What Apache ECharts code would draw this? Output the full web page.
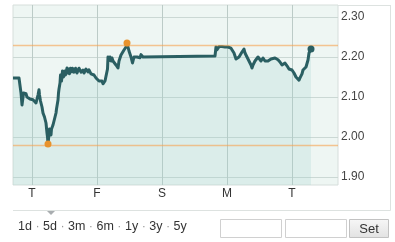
<!DOCTYPE html>
<html>
<head>
<meta charset="utf-8">
<script src="https://cdn.jsdelivr.net/npm/echarts@6/dist/echarts.min.js"></script>
<style>
html,body{margin:0;padding:0;background:#fff;}
#chart{width:395px;height:242px;}
</style>
</head>
<body>
<div id="chart"></div>
<script>
// time steps (65 steps per trading day), axis starts at step 0
const times = [0,6,7,8,8.5,9,9.5,10,10.5,11,12,12.5,13,14,15,16,17,18,19,20,21,22,23,24,25,26,26.5,27,27.5,28,29,29.5,30,31,31.5,32,33,33.5,34,34.5,35,35.5,36,36.5,37,38,38.5,39,40,41,41.5,42,43,43.5,44,45,45.5,46,47,47.5,48,48.5,49,49.5,50,50.5,51,52,52.5,53,54,54.5,55,56,56.5,57,57.5,58,59,59.5,60,61,62,62.5,63,64,65,66,67,68,69,70,71,72,73,74,75,76,77,78,79,80,81,82,83,84,85,86,87,88,89,90,91,92,93,94,94.5,95,95.5,96,97,98,99,100,101,102,103,104,105,106,107,108,109,110,111,112,113,114,115,116,116.5,117,118,119,119.5,120,121,122,123,124,125,126,127,128,129,130,131,202,203,204,205,206,207,208,209,210,212,215,217,218,219,220,221,222,223,224,225,226,227,228,229,230,231,232,233,234,235,236,237,238,239,240,241,242,243,244,245,246,247,248,249,250,251,252,253,254,255,256,257,258,259,262,264,265,266,267,268,269,270,271,272,273,274,275,276,277,278,279,280,281,282,283,284,285,286,287,288,289,290,291,292,293,294,295,296,298];
const prices = [2.1475,2.1475,2.145,2.11,2.095,2.08,2.09,2.095,2.11,2.105,2.1125,2.105,2.108,2.10,2.102,2.097,2.095,2.10,2.094,2.093,2.096,2.088,2.085,2.095,2.105,2.118,2.105,2.10,2.09,2.085,2.075,2.08,2.06,2.065,2.05,2.045,2.035,2.04,2.01,2.0,1.9825,1.995,2.00,2.02,2.015,2.005,2.02,2.0175,2.03,2.025,2.045,2.0425,2.06,2.07,2.075,2.0925,2.11,2.12,2.135,2.155,2.15,2.14,2.145,2.165,2.16,2.15,2.155,2.165,2.155,2.16,2.1725,2.16,2.165,2.17,2.158,2.1625,2.172,2.168,2.163,2.172,2.17,2.162,2.165,2.172,2.168,2.16,2.165,2.172,2.168,2.162,2.165,2.1675,2.16,2.163,2.17,2.165,2.1625,2.168,2.165,2.158,2.16,2.1625,2.155,2.152,2.1475,2.15,2.145,2.14,2.1425,2.137,2.14,2.133,2.135,2.14,2.135,2.1425,2.17,2.20,2.19,2.195,2.20,2.19,2.1975,2.19,2.185,2.19,2.18,2.185,2.1725,2.19,2.195,2.205,2.21,2.205,2.2175,2.22,2.225,2.235,2.225,2.215,2.22,2.21,2.20,2.195,2.185,2.19,2.20,2.195,2.205,2.20,2.198,2.205,2.198,2.206,2.205,2.20,2.2025,2.2025,2.225,2.218,2.222,2.226,2.23,2.224,2.226,2.224,2.225,2.225,2.225,2.222,2.22,2.2175,2.21,2.205,2.195,2.1925,2.19,2.20,2.205,2.20,2.2125,2.208,2.22,2.21,2.205,2.20,2.195,2.19,2.1875,2.18,2.1725,2.18,2.185,2.19,2.195,2.19,2.20,2.197,2.195,2.19,2.193,2.1975,2.193,2.19,2.188,2.185,2.19,2.186,2.1925,2.195,2.1975,2.1975,2.1975,2.193,2.19,2.1875,2.183,2.18,2.185,2.182,2.185,2.18,2.178,2.175,2.17,2.17,2.165,2.1675,2.165,2.16,2.155,2.15,2.148,2.145,2.142,2.148,2.145,2.158,2.1675,2.165,2.17,2.175,2.18,2.1925,2.21,2.22];
const dayTicks = [19,84,149,214,279];
const dayLabels = ['T','F','S','M','T'];
const priceTicks = [1.9,2.0,2.1,2.2,2.3];
const rangeLabels = ['1d','5d','3m','6m','1y','3y','5y'];

const data = times.map((t,i)=>[t,prices[i]]);
let hiI=0, loI=0;
prices.forEach((p,i)=>{ if(p>prices[hiI]) hiI=i; if(p<prices[loI]) loI=i; });
const last = data[data.length-1];

const chart = echarts.init(document.getElementById('chart'), null, {renderer:'canvas'});
const font = 'Arial, "Liberation Sans", sans-serif';
const rangeRich = rangeLabels.join('{d| · }');

chart.setOption({
  animation:false,
  backgroundColor:'#fff',
  grid:{left:13, top:5, width:325, height:180, show:true, backgroundColor:'#eef6f3', borderColor:'#d6dedb', borderWidth:1},
  xAxis:{
    type:'value', min:0, max:325,
    axisLine:{show:false}, axisTick:{show:false, customValues:dayTicks},
    splitLine:{show:true, lineStyle:{color:'#bccbc7', width:1}},
    axisLabel:{customValues:dayTicks, formatter:(v)=>dayLabels[dayTicks.indexOf(v)], color:'#333', fontSize:12, fontFamily:font, margin:3}
  },
  yAxis:{
    type:'value', position:'right', min:1.88, max:2.33,
    axisLine:{show:false}, axisTick:{show:false, customValues:priceTicks},
    splitLine:{show:true, lineStyle:{color:'#cbd8d4', width:1}},
    axisLabel:{customValues:priceTicks, formatter:(v)=>v.toFixed(2), color:'#444', fontSize:12, fontFamily:font, margin:3}
  },
  series:[{
    type:'line', data:data, showSymbol:false, symbol:'none',
    lineStyle:{color:'#2a5f62', width:3, join:'round'},
    areaStyle:{color:'rgba(158,209,206,0.34)', origin:'start'},
    markLine:{
      silent:true, symbol:'none', label:{show:false},
      lineStyle:{color:'#f7a24f', width:1.4, type:'solid', opacity:0.6},
      emphasis:{disabled:true},
      data:[{yAxis:prices[hiI]},{yAxis:prices[loI]}]
    },
    markPoint:{
      symbol:'circle', symbolSize:7, label:{show:false},
      data:[
        {coord:data[hiI], itemStyle:{color:'#e8932d'}},
        {coord:data[loI], itemStyle:{color:'#e8932d'}},
        {coord:last, itemStyle:{color:'#2a5f62'}}
      ]
    }
  }],
  graphic:[
    {type:'line', shape:{x1:338, y1:5.5, x2:390.5, y2:5.5}, style:{stroke:'#dde2e0', lineWidth:1}},
    {type:'line', shape:{x1:390.5, y1:5, x2:390.5, y2:210.5}, style:{stroke:'#dde2e0', lineWidth:1}},
    {type:'line', shape:{x1:13, y1:210.5, x2:390.5, y2:210.5}, style:{stroke:'#dde2e0', lineWidth:1}},
    {type:'polygon', shape:{points:[[47,211],[55,211],[51,215]]}, style:{fill:'#a9adb0'}},
    {type:'text', left:18, top:220, style:{
      text: rangeRich, fontSize:12.5, fontFamily:font, fill:'#333',
      rich:{d:{fill:'#999', fontSize:12.5, fontFamily:font}}
    }},
    {type:'rect', shape:{x:220.5, y:219.5, width:61, height:18}, style:{fill:'#fff', stroke:'#d0d0d0', lineWidth:1}},
    {type:'rect', shape:{x:285.5, y:219.5, width:61, height:18}, style:{fill:'#fff', stroke:'#d0d0d0', lineWidth:1}},
    {type:'rect', shape:{x:349.5, y:219.5, width:39, height:18},
      style:{fill:new echarts.graphic.LinearGradient(0,0,0,1,[{offset:0,color:'#f7f7f7'},{offset:1,color:'#e2e2e2'}]), stroke:'#c2c2c2', lineWidth:1}},
    {type:'text', x:369, y:229, style:{text:'Set', fontSize:13, fontFamily:font, fill:'#333', align:'center', verticalAlign:'middle'}}
  ]
});
</script>
</body>
</html>
